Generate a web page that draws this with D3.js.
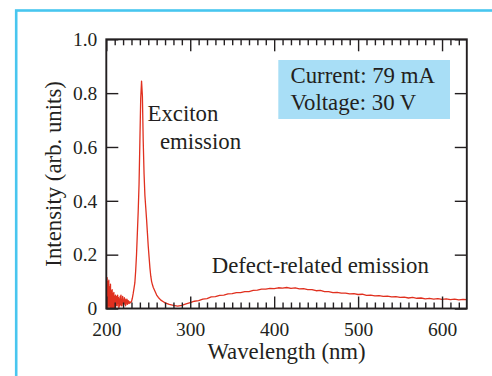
<!DOCTYPE html>
<html>
<head>
<meta charset="utf-8">
<script src="https://cdn.jsdelivr.net/npm/d3@7"></script>
<style>
  html, body { margin: 0; padding: 0; background: #fff; }
  svg { display: block; }
  text { font-family: "Liberation Serif", "Times New Roman", serif; fill: #231f20; }
</style>
</head>
<body>
<svg id="chart" width="492" height="376"></svg>
<script>
// ---------- data ----------
// noisy start of the spectrum (nm, intensity)
const noiseWavelengths = [200,200.25,200.5,200.75,201,201.25,201.5,201.75,202,202.25,202.5,202.75,203,203.25,203.5,203.75,204,204.25,204.5,204.75,205,205.25,205.5,205.75,206,206.25,206.5,206.75,207,207.25,207.5,207.75,208,208.25,208.5,208.75,209,209.25,209.5,209.75,210,210.5,211,211.5,212,212.5,213,213.5,214,214.5,215,215.5,216,216.5,217,217.5,218,218.5,219,219.5,220,220.5,221,221.5,222,222.5,223,223.5,224,224.5,225,225.5,226,226.5,227,227.5,228,228.5];
const noiseIntensity   = [0.125,0.02,0.10,0.0,0.115,0.03,0.09,0.01,0.10,0.0,0.085,0.02,0.105,0.01,0.07,0.03,0.08,0.0,0.075,0.02,0.09,0.01,0.06,0.0,0.065,0.02,0.05,0.0,0.07,0.02,0.045,0.01,0.055,0.0,0.04,0.015,0.06,0.01,0.035,0.0,0.045,0.0,0.05,0.01,0.03,0.045,0.01,0.05,0.02,0.04,0.0,0.035,0.01,0.045,0.015,0.05,0.01,0.03,0.02,0.045,0.01,0.03,0.015,0.04,0.02,0.035,0.01,0.03,0.02,0.035,0.015,0.03,0.02,0.028,0.018,0.025,0.02,0.024];
// exciton peak
const peakWavelengths = [229,230,231,232,233,234,235,236,237,238,239,240,241,242,243,244,245,246,247,248,249,250,251,252,253,254,255,256,258,260,262,265,268];
const peakIntensity   = [0.022,0.025,0.038,0.055,0.075,0.095,0.14,0.2,0.28,0.36,0.46,0.62,0.78,0.845,0.79,0.62,0.5,0.42,0.375,0.33,0.28,0.23,0.19,0.15,0.12,0.1,0.088,0.078,0.064,0.05,0.041,0.031,0.025];
// broad defect band
const bandWavelengths = [270,275,280,285,290,295,300,305,310,315,320,325,330,335,340,345,350,355,360,365,370,375,380,385,390,395,400,405,410,415,420,425,430,435,440,445,450,455,460,465,470,475,480,485,490,495,500,505,510,515,520,525,530,535,540,545,550,555,560,565,570,575,580,585,590,595,600,605,610,615,620,625,630];
const bandIntensity   = [0.021,0.015,0.012,0.009,0.012,0.017,0.022,0.027,0.029,0.035,0.037,0.043,0.044,0.049,0.050,0.054,0.055,0.059,0.059,0.063,0.063,0.067,0.068,0.072,0.072,0.075,0.074,0.077,0.076,0.078,0.075,0.077,0.073,0.074,0.070,0.070,0.066,0.067,0.063,0.063,0.059,0.060,0.057,0.057,0.054,0.055,0.052,0.053,0.049,0.050,0.047,0.048,0.045,0.046,0.043,0.044,0.041,0.042,0.039,0.041,0.038,0.039,0.036,0.038,0.035,0.037,0.034,0.036,0.033,0.035,0.032,0.034,0.033];

const xMajorTicks = [200,300,400,500,600];
const yMajorTicks = [0,0.2,0.4,0.6,0.8,1.0];
const xLabel = "Wavelength (nm)";
const yLabel = "Intensity (arb. units)";
const infoLines = ["Current: 79 mA", "Voltage: 30 V"];

// ---------- build ----------
const wl = noiseWavelengths.concat(peakWavelengths, bandWavelengths);
const iv = noiseIntensity.concat(peakIntensity, bandIntensity);
const data = wl.map((w, i) => ({w, v: iv[i]}));
const xMinorTicks = d3.range(210, 630, 10).filter(v => v % 100 !== 0);

const svg = d3.select("#chart");
const L = 106.3, R = 466.8, T = 39.3, B = 308.5;
const x = d3.scaleLinear().domain([200, 629.5]).range([L, R]);
const y = d3.scaleLinear().domain([0, 1]).range([B, T]);

// cyan frame (runs off the right and bottom edges)
svg.append("rect")
  .attr("x", 16.2).attr("y", 10.5).attr("width", 520).attr("height", 420)
  .attr("fill", "none").attr("stroke", "#48c6ef").attr("stroke-width", 2.6);

// info box
svg.append("rect")
  .attr("x", 278.3).attr("y", 60).attr("width", 171.7).attr("height", 59)
  .attr("fill", "#a8def6");
infoLines.forEach((t, i) => {
  svg.append("text").attr("x", 290.5).attr("y", 82.5 + i * 27.8)
    .attr("font-size", 22.8).text(t);
});

// curve
const clipId = "plotclip";
svg.append("clipPath").attr("id", clipId).append("rect")
  .attr("x", L).attr("y", T).attr("width", R - L).attr("height", B - T);
svg.append("path").datum(data)
  .attr("clip-path", `url(#${clipId})`)
  .attr("fill", "none").attr("stroke", "#e0301f").attr("stroke-width", 1.3)
  .attr("stroke-linejoin", "round")
  .attr("d", d3.line().x(d => x(d.w)).y(d => y(d.v)));

// axes
const tickStyle = g => {
  g.select(".domain").remove();
  g.selectAll(".tick line").attr("stroke", "#231f20").attr("stroke-width", 1.4);
  g.selectAll("text").attr("font-family", "Liberation Serif, serif").attr("fill", "#231f20").attr("font-size", 19.5);
};
svg.append("g").attr("transform", `translate(0,${B})`)
  .call(d3.axisBottom(x).tickValues(xMajorTicks).tickSizeInner(-12).tickSizeOuter(0).tickPadding(13.5).tickFormat(d3.format("d")))
  .call(tickStyle);
svg.append("g").attr("transform", `translate(0,${B})`)
  .call(d3.axisBottom(x).tickValues(xMinorTicks).tickSizeInner(-6).tickSizeOuter(0).tickFormat(""))
  .call(tickStyle);
svg.append("g").attr("transform", `translate(0,${T})`)
  .call(d3.axisTop(x).tickValues(xMajorTicks).tickSizeInner(-12).tickSizeOuter(0).tickFormat(""))
  .call(tickStyle);
svg.append("g").attr("transform", `translate(0,${T})`)
  .call(d3.axisTop(x).tickValues(xMinorTicks).tickSizeInner(-6).tickSizeOuter(0).tickFormat(""))
  .call(tickStyle);
svg.append("g").attr("transform", `translate(${L},0)`)
  .call(d3.axisLeft(y).tickValues(yMajorTicks).tickSizeInner(-12).tickSizeOuter(0).tickPadding(9)
    .tickFormat(d => d === 0 ? "0" : d3.format(".1f")(d)))
  .call(tickStyle);
svg.append("g").attr("transform", `translate(${R},0)`)
  .call(d3.axisRight(y).tickValues(yMajorTicks).tickSizeInner(-12).tickSizeOuter(0).tickFormat(""))
  .call(tickStyle);

// plot frame
svg.append("rect").attr("x", L).attr("y", T).attr("width", R - L).attr("height", B - T)
  .attr("fill", "none").attr("stroke", "#231f20").attr("stroke-width", 1.9);

// axis labels
svg.append("text").attr("x", (L + R) / 2).attr("y", 358.5)
  .attr("text-anchor", "middle").attr("font-size", 22.8).text(xLabel);
svg.append("text").attr("transform", `translate(60.5,${(T + B) / 2}) rotate(-90)`)
  .attr("text-anchor", "middle").attr("font-size", 22.8).text(yLabel);

// annotations
svg.append("text").attr("x", 147.5).attr("y", 121).attr("font-size", 22.8).text("Exciton");
svg.append("text").attr("x", 160).attr("y", 149).attr("font-size", 22.8).text("emission");
svg.append("text").attr("x", 211.7).attr("y", 273).attr("font-size", 22.8).text("Defect-related emission");
</script>
</body>
</html>
